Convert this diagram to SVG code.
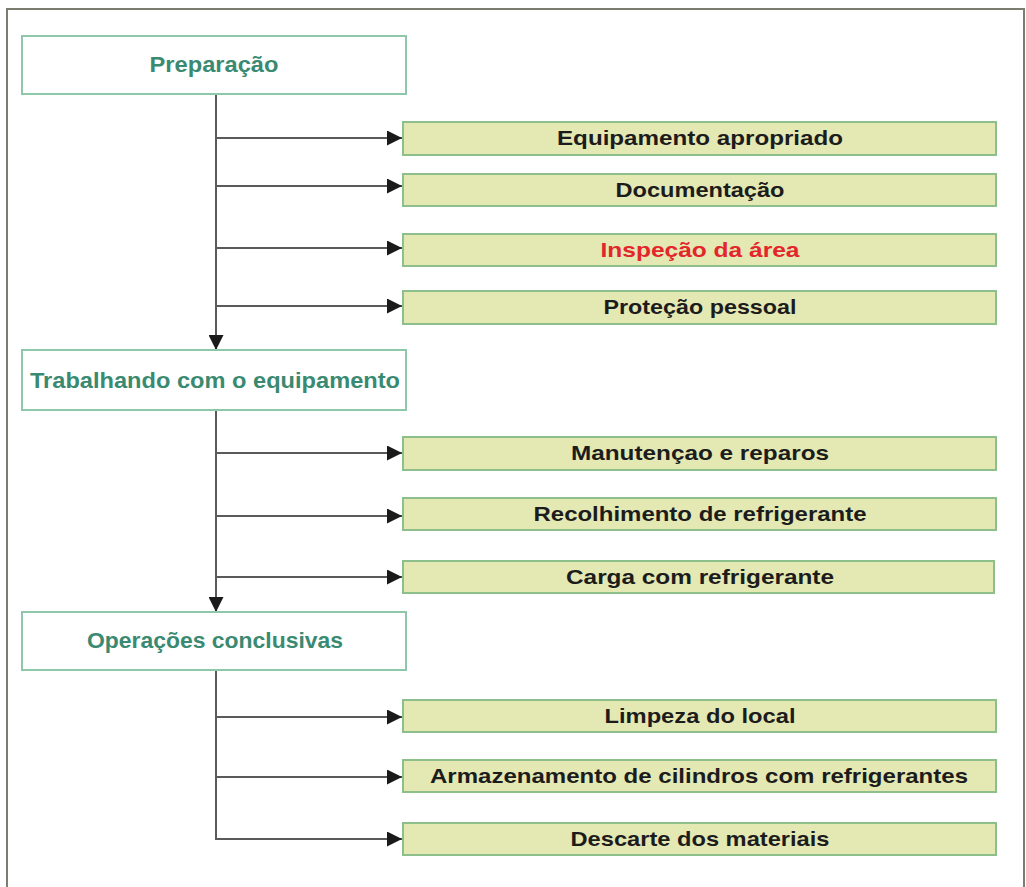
<svg xmlns="http://www.w3.org/2000/svg" width="1026" height="887" viewBox="0 0 1026 887">
<defs>
<style>
.frame{fill:#fff;stroke:#7a7d70;stroke-width:2}
.stage{fill:#fff;stroke:#8fc7ab;stroke-width:2}
.item{fill:#e4e8b2;stroke:#8dbf8a;stroke-width:2}
.line{fill:none;stroke:#5a5a5a;stroke-width:2}
.st{font-family:"Liberation Sans",Arial,sans-serif;font-weight:bold;font-size:22px;fill:#3a8a72;text-anchor:middle}
.it{font-family:"Liberation Sans",Arial,sans-serif;font-weight:bold;font-size:21px;fill:#1c1c1c;text-anchor:middle}
.red{fill:#e2262b}
</style>
<marker id="ah" viewBox="0 0 10 10" refX="10" refY="5" markerWidth="17" markerHeight="15" markerUnits="userSpaceOnUse" orient="auto">
<path d="M0,0 L10,5 L0,10 Z" fill="#1a1a1a"/>
</marker>
</defs>
<rect x="0" y="0" width="1026" height="887" fill="#fff"/>
<rect class="frame" x="7" y="9" width="1017" height="890"/>
<g id="connectors">
<path class="line" d="M216,94 V350" marker-end="url(#ah)"/>
<path class="line" d="M216,138 H402" marker-end="url(#ah)"/>
<path class="line" d="M216,186 H402" marker-end="url(#ah)"/>
<path class="line" d="M216,248 H402" marker-end="url(#ah)"/>
<path class="line" d="M216,306 H402" marker-end="url(#ah)"/>
<path class="line" d="M216,410 V612" marker-end="url(#ah)"/>
<path class="line" d="M216,453 H402" marker-end="url(#ah)"/>
<path class="line" d="M216,516 H402" marker-end="url(#ah)"/>
<path class="line" d="M216,577 H402" marker-end="url(#ah)"/>
<path class="line" d="M216,670 V839 H402" marker-end="url(#ah)"/>
<path class="line" d="M216,717 H402" marker-end="url(#ah)"/>
<path class="line" d="M216,777 H402" marker-end="url(#ah)"/>
</g>
<g id="preparacao"><rect class="stage" x="22" y="36" width="384" height="58"/><text class="st" x="214" y="72" textLength="129" lengthAdjust="spacingAndGlyphs">Preparação</text></g>
<g id="equipamento"><rect class="item" x="403" y="122" width="593" height="33"/><text class="it" x="700" y="145" textLength="286" lengthAdjust="spacingAndGlyphs">Equipamento apropriado</text></g>
<g id="documentacao"><rect class="item" x="403" y="174" width="593" height="32"/><text class="it" x="700" y="197" textLength="169" lengthAdjust="spacingAndGlyphs">Documentação</text></g>
<g id="inspecao"><rect class="item" x="403" y="234" width="593" height="32"/><text class="it red" x="700" y="257" textLength="199" lengthAdjust="spacingAndGlyphs">Inspeção da área</text></g>
<g id="protecao"><rect class="item" x="403" y="291" width="593" height="33"/><text class="it" x="700" y="314" textLength="193" lengthAdjust="spacingAndGlyphs">Proteção pessoal</text></g>
<g id="trabalhando"><rect class="stage" x="22" y="350" width="384" height="60"/><text class="st" x="215" y="388" textLength="370" lengthAdjust="spacingAndGlyphs">Trabalhando com o equipamento</text></g>
<g id="manutencao"><rect class="item" x="403" y="437" width="593" height="33"/><text class="it" x="700" y="460" textLength="258" lengthAdjust="spacingAndGlyphs">Manutençao e reparos</text></g>
<g id="recolhimento"><rect class="item" x="403" y="498" width="593" height="32"/><text class="it" x="700" y="521" textLength="333" lengthAdjust="spacingAndGlyphs">Recolhimento de refrigerante</text></g>
<g id="carga"><rect class="item" x="403" y="561" width="591" height="32"/><text class="it" x="700" y="584" textLength="268" lengthAdjust="spacingAndGlyphs">Carga com refrigerante</text></g>
<g id="operacoes"><rect class="stage" x="22" y="612" width="384" height="58"/><text class="st" x="215" y="648" textLength="256" lengthAdjust="spacingAndGlyphs">Operações conclusivas</text></g>
<g id="limpeza"><rect class="item" x="403" y="700" width="593" height="32"/><text class="it" x="700" y="723" textLength="191" lengthAdjust="spacingAndGlyphs">Limpeza do local</text></g>
<g id="armazenamento"><rect class="item" x="403" y="760" width="593" height="32"/><text class="it" x="699" y="783" textLength="538" lengthAdjust="spacingAndGlyphs">Armazenamento de cilindros com refrigerantes</text></g>
<g id="descarte"><rect class="item" x="403" y="823" width="593" height="32"/><text class="it" x="700" y="846" textLength="259" lengthAdjust="spacingAndGlyphs">Descarte dos materiais</text></g>
</svg>
